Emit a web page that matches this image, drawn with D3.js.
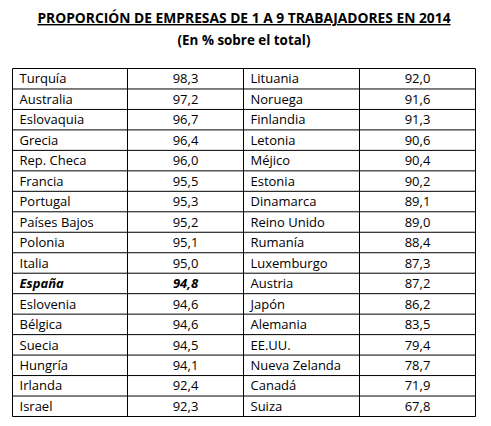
<!DOCTYPE html><html><head><meta charset="utf-8"><script src="https://cdn.jsdelivr.net/npm/d3@7"></script>
<style>body{margin:0;background:#fff}</style></head><body><svg id="c" width="491" height="426"></svg>
<script>
const countriesL=["Turquía","Australia","Eslovaquia","Grecia","Rep. Checa","Francia","Portugal","Países Bajos","Polonia","Italia","España","Eslovenia","Bélgica","Suecia","Hungría","Irlanda","Israel"];
const valuesL=[98.3,97.2,96.7,96.4,96.0,95.5,95.3,95.2,95.1,95.0,94.8,94.6,94.6,94.5,94.1,92.4,92.3];
const countriesR=["Lituania","Noruega","Finlandia","Letonia","Méjico","Estonia","Dinamarca","Reino Unido","Rumanía","Luxemburgo","Austria","Japón","Alemania","EE.UU.","Nueva Zelanda","Canadá","Suiza"];
const valuesR=[92.0,91.6,91.3,90.6,90.4,90.2,89.1,89.0,88.4,87.3,87.2,86.2,83.5,79.4,78.7,71.9,67.8];
const title="PROPORCIÓN DE EMPRESAS DE 1 A 9 TRABAJADORES EN 2014";
const subtitle="(En % sobre el total)";
const svg=d3.select("#c");const F="'Open Sans', sans-serif";
const fmt=v=>d3.format(".1f")(v).replace(".",",");
const x0=12.5,x1=475.5,y0=68.5,y1=416.5;
const y=d3.scaleBand().domain(d3.range(17)).range([y0,y1]);
const cols=[x0,127.5,243.5,359.5,x1];
svg.append("text").attr("x",244).attr("y",23).attr("text-anchor","middle").attr("font-family",F).attr("font-weight","bold").attr("font-size",13.8).attr("text-decoration","underline").text(title);
svg.append("text").attr("x",244).attr("y",45).attr("text-anchor","middle").attr("font-family",F).attr("font-weight","bold").attr("font-size",13.4).text(subtitle);
const g=svg.append("g").attr("font-family",F).attr("font-size",13).attr("fill","#000");
d3.range(17).forEach(i=>{
 const ty=y(i)+y.bandwidth()/2+4.7;
 const b=i===10;
 g.append("text").attr("x",cols[0]+7).attr("y",ty).text(countriesL[i]).attr("font-weight",b?"bold":null).attr("font-style",b?"italic":null);
 g.append("text").attr("x",(cols[1]+cols[2])/2).attr("y",ty).attr("text-anchor","middle").text(fmt(valuesL[i])).attr("font-weight",b?"bold":null).attr("font-style",b?"italic":null);
 g.append("text").attr("x",cols[2]+7).attr("y",ty).text(countriesR[i]);
 g.append("text").attr("x",(cols[3]+cols[4])/2).attr("y",ty).attr("text-anchor","middle").text(fmt(valuesR[i]));
});
const L=svg.append("g").attr("stroke","#000").attr("stroke-width",1);
d3.range(18).forEach(i=>{const yy=i<17?y(i):y1;L.append("line").attr("x1",x0).attr("x2",x1).attr("y1",yy).attr("y2",yy);});
cols.forEach(c=>L.append("line").attr("x1",c).attr("x2",c).attr("y1",y0).attr("y2",y1));
</script></body></html>
